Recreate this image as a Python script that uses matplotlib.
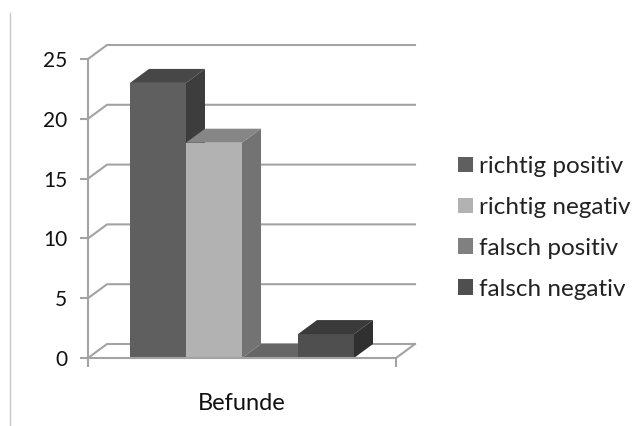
import matplotlib
matplotlib.use('Agg')
from matplotlib import pyplot as plt
from matplotlib.patches import Patch, Polygon
from matplotlib.lines import Line2D

categories = ['richtig positiv', 'richtig negativ', 'falsch positiv', 'falsch negativ']
values = [23, 18, 0, 2]
group_label = 'Befunde'
y_ticks = [0, 5, 10, 15, 20, 25]

front_colors = ['#5f5f5f', '#b2b2b2', '#808080', '#4f4f4f']
top_colors = ['#474747', '#868686', '#666666', '#3a3a3a']
side_colors = ['#3d3d3d', '#737373', '#5c5c5c', '#303030']

W, H = 632, 426
GRID = '#a3a3a3'
plt.rcParams['font.family'] = ['Lato', 'DejaVu Sans']

fig = plt.figure(figsize=(W / 100, H / 100), dpi=100, facecolor='white')
ax = fig.add_axes([88 / W, 1 - 358 / H, 308 / W, 299 / H])
ax.set_xlim(0, 5.5)
ax.set_ylim(0, 25)
ax.patch.set_visible(False)

# depth of the fake 3d box, in data units
dx = 19 / 56
dy = 14 / (299 / 25)

# back wall and floor
for v in y_ticks:
    ax.plot([0, dx, 5.5 + dx], [v, v + dy, v + dy], color=GRID, lw=1.5, clip_on=False, zorder=1)
ax.plot([5.5, 5.5 + dx], [0, dy], color=GRID, lw=1.5, clip_on=False, zorder=1)

# bars, left to right so each one covers the side of the previous one
for i, val in enumerate(values):
    x0 = 0.75 + i
    x1 = x0 + 1
    z = 2 + i
    ax.bar(x0, val, width=1, align='edge', color=front_colors[i], zorder=z, clip_on=False)
    ax.add_patch(Polygon([(x0, val), (x1, val), (x1 + dx, val + dy), (x0 + dx, val + dy)],
                         closed=True, color=top_colors[i], lw=0, zorder=z, clip_on=False))
    ax.add_patch(Polygon([(x1, 0), (x1 + dx, dy), (x1 + dx, val + dy), (x1, val)],
                         closed=True, color=side_colors[i], lw=0, zorder=z, clip_on=False))

for s in ['top', 'right']:
    ax.spines[s].set_visible(False)
for s in ['left', 'bottom']:
    ax.spines[s].set_color(GRID)
    ax.spines[s].set_linewidth(1.5)
    ax.spines[s].set_zorder(10)

ax.set_yticks(y_ticks)
ax.tick_params(axis='y', length=6, width=1.5, color=GRID, labelsize=15, pad=9, labelcolor='#111111')
ax.set_xticks([2.75], [group_label])
ax.set_xticks([0, 5.5], minor=True)
ax.tick_params(axis='x', which='major', length=0, labelsize=17, pad=25.5, labelcolor='#111111')
ax.tick_params(axis='x', which='minor', length=6.5, width=1.5, color=GRID)

handles = [Patch(facecolor=c, edgecolor='none') for c in front_colors]
fig.legend(handles, categories, loc='upper left', bbox_to_anchor=(458 / W, 1 - 156 / H),
           bbox_transform=fig.transFigure, frameon=False, fontsize=17.5, labelcolor='#222222',
           handlelength=0.62, handleheight=0.62, handletextpad=0.25, labelspacing=0.82,
           borderpad=0, borderaxespad=0)

# thin rule on the left edge of the picture
fig.add_artist(Line2D([10 / W, 10 / W], [0, 1 - 13 / H], color='#c8c8c8', lw=1))

fig.savefig('out.png', dpi=100, facecolor='white')
